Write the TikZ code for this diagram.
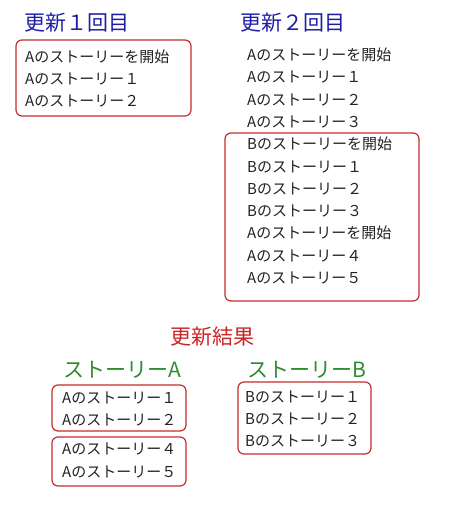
\documentclass[tikz,border=0pt]{standalone}
\usepackage{fontspec}
\setmainfont{Noto Sans CJK JP}
\definecolor{headblue}{RGB}{30,30,165}
\definecolor{resultred}{RGB}{205,35,35}
\definecolor{storygreen}{RGB}{45,140,45}
\definecolor{boxred}{RGB}{195,45,45}
\definecolor{textgray}{RGB}{35,35,35}

\begin{document}
\begin{tikzpicture}[x=1pt, y=-1pt,
  line/.style={anchor=west, inner sep=0pt, text height=11pt, text depth=0pt,
    font=\fontsize{15}{15}\selectfont, text=textgray},
  heading/.style={anchor=west, inner sep=0pt, text height=16pt, text depth=0pt,
    font=\fontsize{21}{21}\selectfont},
  storybox/.style={draw=boxred, line width=1.2pt, rounded corners=6pt}]
  \useasboundingbox (0,0) rectangle (454,515);

  % update 1
  \node[heading, text=headblue] (head1) at (24,22) {更新１回目};
  \draw[storybox] (16,40) rectangle (191,116);
  \node[line] (a1) at (25,57) {Aのストーリーを開始};
  \node[line] (a2) at (25,79) {Aのストーリー１};
  \node[line] (a3) at (25,101) {Aのストーリー２};

  % update 2
  \node[heading, text=headblue] (head2) at (240,22) {更新２回目};
  \draw[storybox] (225,133) rectangle (419,301);
  \foreach \txt [count=\i] in {Aのストーリーを開始, Aのストーリー１, Aのストーリー２,
      Aのストーリー３, Bのストーリーを開始, Bのストーリー１, Bのストーリー２,
      Bのストーリー３, Aのストーリーを開始, Aのストーリー４, Aのストーリー５}
    \node[line] (r\i) at (247,{55+22.3*(\i-1)}) {\txt};

  % result
  \node[heading, text=resultred] (result) at (170,336) {更新結果};
  \node[heading, text=storygreen] (storyA) at (63,369) {ストーリーA};
  \node[heading, text=storygreen] (storyB) at (247,369) {ストーリーB};

  % story A
  \draw[storybox] (52,385) rectangle (186,431);
  \node[line] (sa1) at (62,398) {Aのストーリー１};
  \node[line] (sa2) at (62,420) {Aのストーリー２};
  \draw[storybox] (52,437) rectangle (186,486);
  \node[line] (sa4) at (62,449) {Aのストーリー４};
  \node[line] (sa5) at (62,472) {Aのストーリー５};

  % story B
  \draw[storybox] (238,382) rectangle (371,454);
  \node[line] (sb1) at (245,397) {Bのストーリー１};
  \node[line] (sb2) at (245,419) {Bのストーリー２};
  \node[line] (sb3) at (245,441) {Bのストーリー３};
\end{tikzpicture}
\end{document}
